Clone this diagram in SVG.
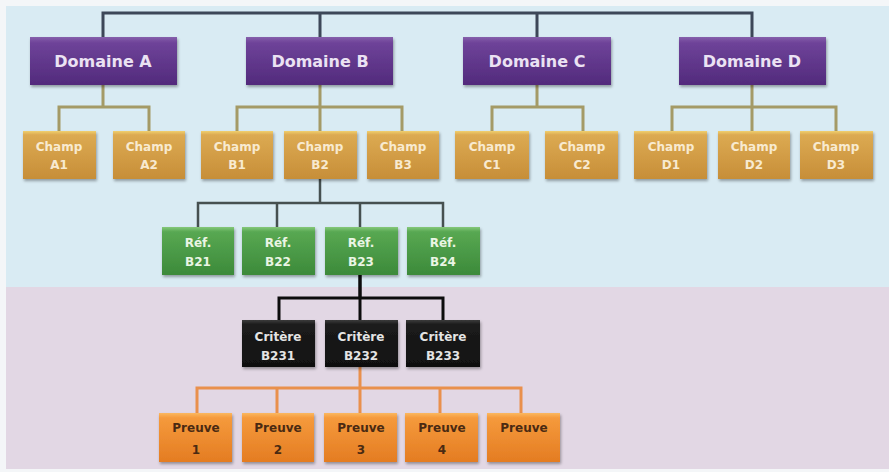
<svg xmlns="http://www.w3.org/2000/svg" width="889" height="472" viewBox="0 0 889 472">
  <defs>
    <linearGradient id="gPurple" x1="0" y1="0" x2="0" y2="1">
      <stop offset="0" stop-color="#8660ab"/>
      <stop offset="0.12" stop-color="#6e4399"/>
      <stop offset="1" stop-color="#522a7c"/>
    </linearGradient>
    <linearGradient id="gGold" x1="0" y1="0" x2="0" y2="1">
      <stop offset="0" stop-color="#f0d070"/>
      <stop offset="0.08" stop-color="#dcaa52"/>
      <stop offset="1" stop-color="#c78e38"/>
    </linearGradient>
    <linearGradient id="gGreen" x1="0" y1="0" x2="0" y2="1">
      <stop offset="0" stop-color="#86c87a"/>
      <stop offset="0.1" stop-color="#58a852"/>
      <stop offset="1" stop-color="#3c8a3a"/>
    </linearGradient>
    <linearGradient id="gBlack" x1="0" y1="0" x2="0" y2="1">
      <stop offset="0" stop-color="#3a3a3a"/>
      <stop offset="0.1" stop-color="#1c1c1c"/>
      <stop offset="1" stop-color="#101010"/>
    </linearGradient>
    <linearGradient id="gOrange" x1="0" y1="0" x2="0" y2="1">
      <stop offset="0" stop-color="#fbb860"/>
      <stop offset="0.1" stop-color="#f59a3c"/>
      <stop offset="1" stop-color="#e47c22"/>
    </linearGradient>
    <filter id="shadow" x="-10%" y="-10%" width="130%" height="140%">
      <feGaussianBlur in="SourceAlpha" stdDeviation="1.5"/>
      <feOffset dx="1" dy="2" result="b"/>
      <feComponentTransfer><feFuncA type="linear" slope="0.35"/></feComponentTransfer>
      <feMerge><feMergeNode/><feMergeNode in="SourceGraphic"/></feMerge>
    </filter>
  </defs>
  <style>
    .dom rect { fill: url(#gPurple); filter: url(#shadow); }
    .dom text { fill: #ebe2f3; font: bold 16px "DejaVu Sans", sans-serif; text-anchor: middle; }
    .champ rect { fill: url(#gGold); filter: url(#shadow); }
    .champ text { fill: #f8ead0; font: bold 12px "DejaVu Sans", sans-serif; text-anchor: middle; }
    .ref rect { fill: url(#gGreen); filter: url(#shadow); }
    .ref text { fill: #eaf5e4; font: bold 12px "DejaVu Sans", sans-serif; text-anchor: middle; }
    .crit rect { fill: url(#gBlack); filter: url(#shadow); }
    .crit text { fill: #e4e4e4; font: bold 12px "DejaVu Sans", sans-serif; text-anchor: middle; }
    .preuve rect { fill: url(#gOrange); filter: url(#shadow); }
    .preuve text { fill: #4a2a12; font: bold 12px "DejaVu Sans", sans-serif; text-anchor: middle; }
    .lnTop { stroke: #3d4758; stroke-width: 3; fill: none; }
    .lnChamp { stroke: #a49a66; stroke-width: 3; fill: none; }
    .lnRef { stroke: #465050; stroke-width: 2.5; fill: none; }
    .lnCrit { stroke: #0c0c0c; stroke-width: 3; fill: none; }
    .lnPreuve { stroke: #e9904c; stroke-width: 3; fill: none; }
  </style>

  <!-- background bands -->
  <rect x="0" y="0" width="889" height="472" fill="#f4f6f8"/>
  <rect x="6" y="6" width="883" height="281" fill="#d9ebf3"/>
  <rect x="6" y="287" width="883" height="182" fill="#e2d7e4"/>

  <!-- connectors -->
  <g id="connectors">
    <path class="lnTop" d="M103 37 V13 H752 V37 M320 13 V37 M537 13 V37"/>
    <path class="lnChamp" d="M103 85 V107 M59 131 V107 H149 V131"/>
    <path class="lnChamp" d="M320 85 V131 M237 131 V107 H402 V131"/>
    <path class="lnChamp" d="M537 85 V107 M492 131 V107 H583 V131"/>
    <path class="lnChamp" d="M752 85 V131 M672 131 V107 H836 V131"/>
    <path class="lnRef" d="M320 179 V203 M198 227 V203 H443 V227 M277 203 V227 M360 203 V227"/>
    <path class="lnCrit" d="M360 275 V320 M279 320 V298 H443 V320" />
    <path class="lnCrit" d="M360 275 V298" stroke-width="4.5"/>
    <path class="lnPreuve" d="M360 367 V413 M197 413 V388 H521 V413 M277 388 V413 M440 388 V413"/>
  </g>

  <!-- domains -->
  <g id="domaine-a" class="dom"><rect x="30" y="37" width="147" height="48"/><text x="103" y="67">Domaine A</text></g>
  <g id="domaine-b" class="dom"><rect x="246" y="37" width="147" height="48"/><text x="320" y="67">Domaine B</text></g>
  <g id="domaine-c" class="dom"><rect x="463" y="37" width="148" height="48"/><text x="537" y="67">Domaine C</text></g>
  <g id="domaine-d" class="dom"><rect x="679" y="37" width="147" height="48"/><text x="752" y="67">Domaine D</text></g>

  <!-- champs -->
  <g id="champ-a1" class="champ"><rect x="23" y="131" width="73" height="48"/><text x="59" y="151">Champ</text><text x="59" y="169">A1</text></g>
  <g id="champ-a2" class="champ"><rect x="113" y="131" width="72" height="48"/><text x="149" y="151">Champ</text><text x="149" y="169">A2</text></g>
  <g id="champ-b1" class="champ"><rect x="201" y="131" width="72" height="48"/><text x="237" y="151">Champ</text><text x="237" y="169">B1</text></g>
  <g id="champ-b2" class="champ"><rect x="284" y="131" width="73" height="48"/><text x="320" y="151">Champ</text><text x="320" y="169">B2</text></g>
  <g id="champ-b3" class="champ"><rect x="367" y="131" width="72" height="48"/><text x="403" y="151">Champ</text><text x="403" y="169">B3</text></g>
  <g id="champ-c1" class="champ"><rect x="455" y="131" width="74" height="48"/><text x="492" y="151">Champ</text><text x="492" y="169">C1</text></g>
  <g id="champ-c2" class="champ"><rect x="545" y="131" width="73" height="48"/><text x="582" y="151">Champ</text><text x="582" y="169">C2</text></g>
  <g id="champ-d1" class="champ"><rect x="634" y="131" width="73" height="48"/><text x="671" y="151">Champ</text><text x="671" y="169">D1</text></g>
  <g id="champ-d2" class="champ"><rect x="718" y="131" width="72" height="48"/><text x="754" y="151">Champ</text><text x="754" y="169">D2</text></g>
  <g id="champ-d3" class="champ"><rect x="800" y="131" width="73" height="48"/><text x="836" y="151">Champ</text><text x="836" y="169">D3</text></g>

  <!-- références -->
  <g id="ref-b21" class="ref"><rect x="162" y="227" width="72" height="48"/><text x="198" y="247">Réf.</text><text x="198" y="266">B21</text></g>
  <g id="ref-b22" class="ref"><rect x="242" y="227" width="73" height="48"/><text x="278" y="247">Réf.</text><text x="278" y="266">B22</text></g>
  <g id="ref-b23" class="ref"><rect x="325" y="227" width="73" height="48"/><text x="361" y="247">Réf.</text><text x="361" y="266">B23</text></g>
  <g id="ref-b24" class="ref"><rect x="407" y="227" width="73" height="48"/><text x="443" y="247">Réf.</text><text x="443" y="266">B24</text></g>

  <!-- critères -->
  <g id="critere-b231" class="crit"><rect x="242" y="320" width="73" height="47"/><text x="278" y="341">Critère</text><text x="278" y="360">B231</text></g>
  <g id="critere-b232" class="crit"><rect x="325" y="320" width="73" height="47"/><text x="361" y="341">Critère</text><text x="361" y="360">B232</text></g>
  <g id="critere-b233" class="crit"><rect x="406" y="320" width="74" height="47"/><text x="443" y="341">Critère</text><text x="443" y="360">B233</text></g>

  <!-- preuves -->
  <g id="preuve-1" class="preuve"><rect x="159" y="413" width="73" height="49"/><text x="196" y="432">Preuve</text><text x="196" y="454">1</text></g>
  <g id="preuve-2" class="preuve"><rect x="242" y="413" width="72" height="49"/><text x="278" y="432">Preuve</text><text x="278" y="454">2</text></g>
  <g id="preuve-3" class="preuve"><rect x="324" y="413" width="73" height="49"/><text x="361" y="432">Preuve</text><text x="361" y="454">3</text></g>
  <g id="preuve-4" class="preuve"><rect x="405" y="413" width="73" height="49"/><text x="442" y="432">Preuve</text><text x="442" y="454">4</text></g>
  <g id="preuve-5" class="preuve"><rect x="487" y="413" width="73" height="49"/><text x="524" y="432">Preuve</text></g>
</svg>
